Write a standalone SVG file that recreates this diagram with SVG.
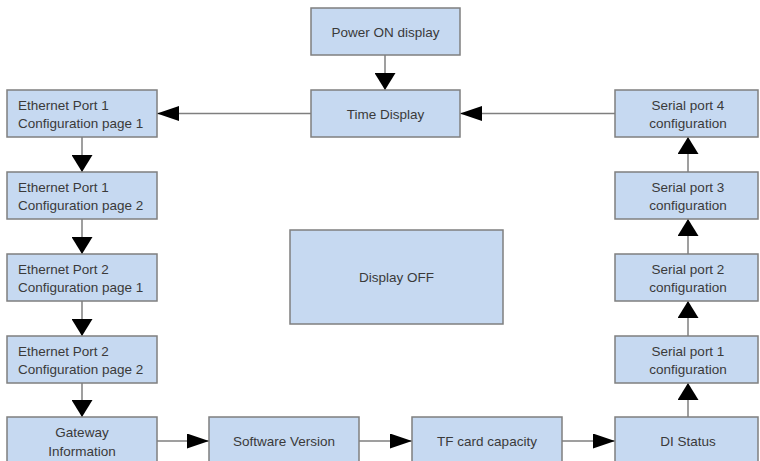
<svg xmlns="http://www.w3.org/2000/svg" width="760" height="461" viewBox="0 0 760 461">
<style>
.box{fill:#c6d9f1;stroke:#7f7f7f;stroke-width:1.5}
.t{font-family:"Liberation Sans",Arial,sans-serif;font-size:13.5px;fill:#3a3a3a}
.c{text-anchor:middle}
.ln{stroke:#7f7f7f;stroke-width:1.5;fill:none}
</style>
<defs>
<marker id="ah" markerUnits="userSpaceOnUse" markerWidth="22" markerHeight="15" refX="22" refY="7.5" orient="auto"><path d="M0,0 L22,7.5 L0,15 Z" fill="#000"/></marker>
<marker id="av" markerUnits="userSpaceOnUse" markerWidth="17" markerHeight="21" refX="17" refY="10.5" orient="auto"><path d="M0,0 L17,10.5 L0,21 Z" fill="#000"/></marker>
</defs>
<rect width="760" height="461" fill="#fff"/>
<g id="connectors">
<path class="ln" d="M385,55 V90" marker-end="url(#av)"/>
<path class="ln" d="M311,113.5 H157" marker-end="url(#ah)"/>
<path class="ln" d="M615,113.5 H460" marker-end="url(#ah)"/>
<path class="ln" d="M82,137 V172" marker-end="url(#av)"/>
<path class="ln" d="M82,219 V254" marker-end="url(#av)"/>
<path class="ln" d="M82,301 V336" marker-end="url(#av)"/>
<path class="ln" d="M82,383 V417" marker-end="url(#av)"/>
<path class="ln" d="M157,441 H209" marker-end="url(#ah)"/>
<path class="ln" d="M359,441 H412" marker-end="url(#ah)"/>
<path class="ln" d="M562,441 H615" marker-end="url(#ah)"/>
<path class="ln" d="M688,417 V383" marker-end="url(#av)"/>
<path class="ln" d="M688,336 V301" marker-end="url(#av)"/>
<path class="ln" d="M688,254 V219" marker-end="url(#av)"/>
<path class="ln" d="M688,172 V137" marker-end="url(#av)"/>
</g>
<g id="power-on"><rect class="box" x="311" y="8" width="149" height="47"/><text class="t c" x="385.5" y="36.5">Power ON display</text></g>
<g id="time-display"><rect class="box" x="311" y="90" width="149" height="47"/><text class="t c" x="385.5" y="118.5">Time Display</text></g>
<g id="eth1p1"><rect class="box" x="7" y="90" width="150" height="47"/><text class="t" x="18" y="109.5">Ethernet Port 1</text><text class="t" x="18" y="127.5">Configuration page 1</text></g>
<g id="eth1p2"><rect class="box" x="7" y="172" width="150" height="47"/><text class="t" x="18" y="191.5">Ethernet Port 1</text><text class="t" x="18" y="209.5">Configuration page 2</text></g>
<g id="eth2p1"><rect class="box" x="7" y="254" width="150" height="47"/><text class="t" x="18" y="273.5">Ethernet Port 2</text><text class="t" x="18" y="291.5">Configuration page 1</text></g>
<g id="eth2p2"><rect class="box" x="7" y="336" width="150" height="47"/><text class="t" x="18" y="355.5">Ethernet Port 2</text><text class="t" x="18" y="373.5">Configuration page 2</text></g>
<g id="gateway"><rect class="box" x="7" y="417" width="150" height="50"/><text class="t c" x="82" y="436.5">Gateway</text><text class="t c" x="82" y="455.5">Information</text></g>
<g id="software"><rect class="box" x="209" y="417" width="150" height="50"/><text class="t c" x="284" y="445.5">Software Version</text></g>
<g id="tfcard"><rect class="box" x="412" y="417" width="150" height="50"/><text class="t c" x="487" y="445.5">TF card capacity</text></g>
<g id="di-status"><rect class="box" x="615" y="417" width="143" height="50"/><text class="t c" x="688" y="445.5">DI Status</text></g>
<g id="serial1"><rect class="box" x="615" y="336" width="143" height="47"/><text class="t c" x="688" y="355.5">Serial port 1</text><text class="t c" x="688" y="373.5">configuration</text></g>
<g id="serial2"><rect class="box" x="615" y="254" width="143" height="47"/><text class="t c" x="688" y="273.5">Serial port 2</text><text class="t c" x="688" y="291.5">configuration</text></g>
<g id="serial3"><rect class="box" x="615" y="172" width="143" height="47"/><text class="t c" x="688" y="191.5">Serial port 3</text><text class="t c" x="688" y="209.5">configuration</text></g>
<g id="serial4"><rect class="box" x="615" y="90" width="143" height="47"/><text class="t c" x="688" y="109.5">Serial port 4</text><text class="t c" x="688" y="127.5">configuration</text></g>
<g id="display-off"><rect class="box" x="290" y="230" width="213" height="94"/><text class="t c" x="396.5" y="282">Display OFF</text></g>
</svg>
